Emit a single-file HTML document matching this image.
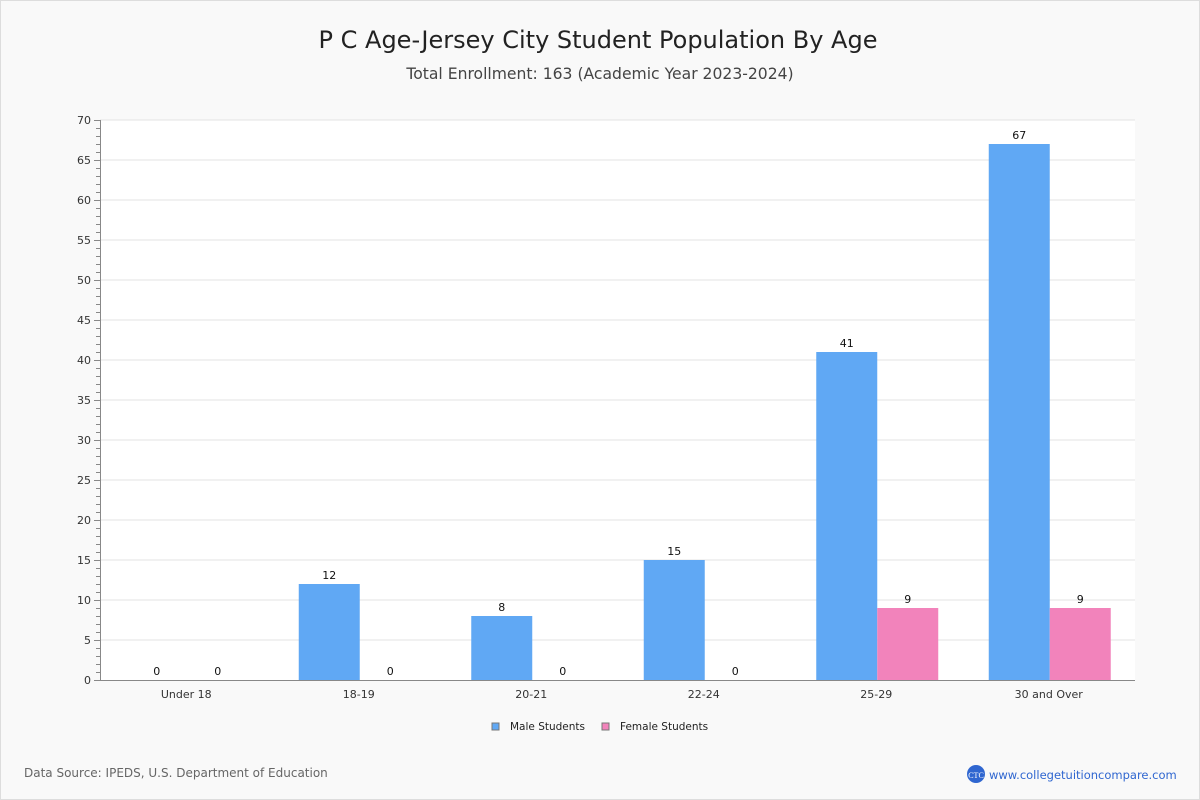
<!DOCTYPE html>
<html><head><meta charset="utf-8"><style>
body{margin:0;width:1200px;height:800px;background:#f9f9f9;font-family:"DejaVu Sans","Liberation Sans",sans-serif;overflow:hidden}
.frame{position:absolute;left:0;top:0;width:1198px;height:798px;border:1px solid #ddd}
</style></head><body>
<div class="frame"></div>
<svg id="c" width="1200" height="800" style="position:absolute;left:0;top:0">
<text x="598" y="48" text-anchor="middle" font-size="24" fill="#222">P C Age-Jersey City Student Population By Age</text>
<text x="600" y="79" text-anchor="middle" font-size="15.6" fill="#444">Total Enrollment: 163 (Academic Year 2023-2024)</text>
<rect x="100" y="120" width="1035" height="560" fill="#fff"/>
<g id="grid"></g><g id="bars"></g><g id="axes"></g>
<g>
<rect x="492" y="723" width="7" height="7" fill="#60a8f4" stroke="#777"/>
<text x="510" y="730" font-size="10.5" fill="#222">Male Students</text>
<rect x="602" y="723" width="7" height="7" fill="#f283bb" stroke="#777"/>
<text x="620" y="730" font-size="10.5" fill="#222">Female Students</text>
</g>
<text x="24" y="777" font-size="12" fill="#666">Data Source: IPEDS, U.S. Department of Education</text>
<circle cx="976" cy="774" r="9" fill="#2f66d0"/>
<text x="976" y="778" text-anchor="middle" font-size="8" fill="#fff" font-family="Liberation Serif,serif">CTC</text>
<text x="989" y="779" font-size="11.5" fill="#2f66d0">www.collegetuitioncompare.com</text>
</svg>
<script>
const categories=["Under 18","18-19","20-21","22-24","25-29","30 and Over"];
const maleValues=[0,12,8,15,41,67];
const femaleValues=[0,0,0,0,9,9];
const yTicks=[0,5,10,15,20,25,30,35,40,45,50,55,60,65,70];
const NS="http://www.w3.org/2000/svg";
const X0=100,X1=1135,Y0=680,Y1=120,YMAX=70;
const y=v=>Y0-(v/YMAX)*(Y0-Y1);
const bw=(X1-X0)/categories.length;
const cx=i=>X0+bw*(i+0.5);
function mk(p,tag,a,txt){const e=document.createElementNS(NS,tag);for(const k in a)e.setAttribute(k,a[k]);if(txt!==undefined)e.textContent=txt;p.appendChild(e);return e;}
const grid=document.getElementById('grid'),bars=document.getElementById('bars'),axes=document.getElementById('axes');
yTicks.forEach(t=>{
 if(t>0){const g=mk(grid,'line',{x1:X0,x2:X1,y1:y(t),y2:y(t),stroke:'#e3e3e3'});
 
 }
 const l=mk(axes,'text',{x:91,y:y(t)+4,'text-anchor':'end','font-size':11,fill:'#333'},t);
 
 
});
for(let v=0;v<=YMAX;v++){mk(axes,'line',{x1:v%5===0?94:96,x2:X0,y1:y(v)+0.5,y2:y(v)+0.5,stroke:'#888'});}
mk(axes,'line',{x1:X0+0.5,x2:X0+0.5,y1:Y1,y2:Y0,stroke:'#888'});
mk(axes,'line',{x1:X0,x2:X1,y1:Y0+0.5,y2:Y0+0.5,stroke:'#888'});
const W=61,OFF=1;
categories.forEach((c,i)=>{
 const m=mk(bars,'rect',{x:cx(i)-W+OFF,y:y(maleValues[i]),width:W,height:Y0-y(maleValues[i]),fill:'#60a8f4'});
 
 
 const f=mk(bars,'rect',{x:cx(i)+OFF,y:y(femaleValues[i]),width:W,height:Y0-y(femaleValues[i]),fill:'#f283bb'});
 
 
 const ml=mk(bars,'text',{x:cx(i)-W/2+OFF,y:y(maleValues[i])-5,'text-anchor':'middle','font-size':11,fill:'#111'},maleValues[i]);
 
 
 const fl=mk(bars,'text',{x:cx(i)+W/2+OFF,y:y(femaleValues[i])-5,'text-anchor':'middle','font-size':11,fill:'#111'},femaleValues[i]);
 
 
 const xl=mk(axes,'text',{x:cx(i),y:698,'text-anchor':'middle','font-size':11,fill:'#333'},c);
 
 
});
</script>
</body></html>
